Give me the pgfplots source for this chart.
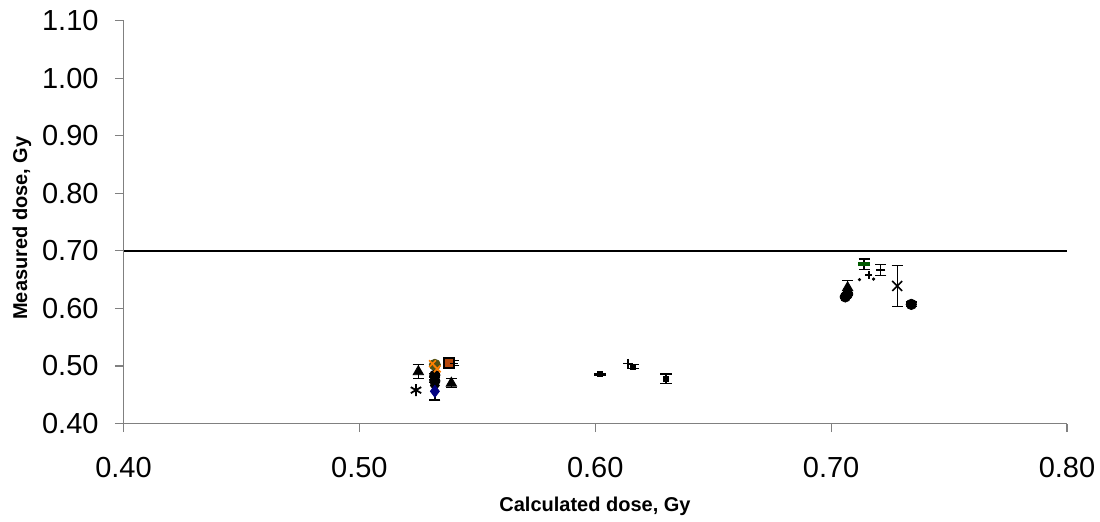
\documentclass[border=0pt]{standalone}
\usepackage{pgfplots}
\pgfplotsset{compat=1.18}
\usepackage{fontspec}
\setmainfont{Liberation Sans}
\definecolor{axgray}{RGB}{128,128,128}
\definecolor{olivec}{RGB}{80,80,20}
\definecolor{orangec}{RGB}{255,128,0}
\definecolor{brownc}{RGB}{180,70,10}
\definecolor{navyc}{RGB}{0,0,128}
\definecolor{greenc}{RGB}{0,90,0}
\begin{document}
\begin{tikzpicture}
\useasboundingbox (0,0) rectangle (550pt,260.5pt);
\begin{axis}[
  at={(61.75pt,48.75pt)}, anchor=south west,
  scale only axis, width=471.75pt, height=201.4pt,
  xmin=0.4, xmax=0.8, ymin=0.4, ymax=1.1,
  xtick={0.4,0.5,0.6,0.7,0.8},
  ytick={0.4,0.5,0.6,0.7,0.8,0.9,1.0,1.1},
  axis x line*=bottom, axis y line*=left,
  axis line style={axgray, line width=0.6pt, -},
  tick style={axgray, line width=0.6pt},
  tick align=outside, major tick length=4.25pt,
  clip=false,
  ticklabel style={font=\fontsize{14.5}{17}\selectfont},
  xticklabel style={yshift=-9pt},
  yticklabel style={xshift=-4.7pt},
  /pgf/number format/.cd, fixed, fixed zerofill, precision=2, assume math mode=true,
  /pgfplots/.cd,
  error bars/error bar style={black, line width=0.65pt},
  error bars/error mark options={black, line width=0.65pt, mark size=2.8pt, rotate=90},
]
% reference line
\addplot[black, line width=0.7pt, no marks] coordinates {(0.4,0.7) (0.8,0.7)};
% triangles
\addplot[only marks, mark=triangle*, mark size=3pt, black,
  error bars/.cd, y dir=both, y explicit]
  coordinates {(0.525,0.490) +- (0,0.012) (0.539,0.470) +- (0,0.008) (0.707,0.636) +- (0,0.012)};
% asterisk
\addplot[only marks, mark=asterisk, mark size=3pt, black, line width=0.9pt]
  coordinates {(0.524,0.458)};
% black circles
\addplot[only marks, mark=*, mark size=2.6pt, black,
  error bars/.cd, y dir=both, y explicit]
  coordinates {(0.532,0.484) +- (0,0.003) (0.532,0.474) +- (0,0.003) (0.707,0.625) +- (0,0.003) (0.706,0.620) +- (0,0.003) (0.734,0.607) +- (0,0.004)};
% black diamond
\addplot[only marks, mark=diamond*, mark size=3pt, black]
  coordinates {(0.532,0.466)};
% navy diamond
\addplot[only marks, mark=diamond*, mark size=3pt, navyc,
  error bars/.cd, y dir=both, y explicit]
  coordinates {(0.532,0.456) +- (0,0.015)};
% olive circle
\addplot[only marks, mark=*, mark size=2.8pt, olivec]
  coordinates {(0.532,0.502)};
% orange crosses
\addplot[only marks, mark=x, mark size=2.4pt, orangec, line width=0.8pt]
  coordinates {(0.531,0.504) (0.533,0.495)};
% brown square
\addplot[only marks, mark=square*, mark size=2.4pt, mark options={fill=brownc, draw=black, line width=0.8pt}]
  coordinates {(0.538,0.505)};
\addplot[only marks, mark=-, mark size=2pt, black,
  error bars/.cd, y dir=both, y explicit]
  coordinates {(0.540,0.505) +- (0,0.004)};
% small squares
\addplot[only marks, mark=square*, mark size=1.3pt, black,
  error bars/.cd, y dir=both, y explicit]
  coordinates {(0.602,0.486) +- (0,0.0015) (0.616,0.499) +- (0,0.003) (0.630,0.478) +- (0,0.008)};
% plus
\addplot[only marks, mark=+, mark size=2.4pt, black, line width=0.8pt]
  coordinates {(0.614,0.504)};
% green dash
\addplot[only marks, mark=-, mark size=3pt, greenc, line width=2pt,
  error bars/.cd, y dir=both, y explicit]
  coordinates {(0.714,0.677) +- (0,0.009)};
% small plus and dots
\addplot[only marks, mark=+, mark size=1.8pt, black, line width=0.7pt]
  coordinates {(0.716,0.658)};
\addplot[only marks, mark=*, mark size=0.6pt, black]
  coordinates {(0.712,0.650) (0.718,0.651)};
% black dash
\addplot[only marks, mark=-, mark size=2.4pt, black, line width=1pt,
  error bars/.cd, y dir=both, y explicit]
  coordinates {(0.721,0.667) +- (0,0.0095)};
% big x
\addplot[only marks, mark=x, mark size=3.5pt, black, line width=0.8pt,
  error bars/.cd, y dir=both, y explicit]
  coordinates {(0.728,0.639) +- (0,0.036)};
\end{axis}
\node[font=\bfseries\fontsize{10}{12}\selectfont] at (297.5pt,7.5pt) {Calculated dose, Gy};
\node[font=\bfseries\fontsize{10}{12}\selectfont, rotate=90] at (11pt,146.5pt) {Measured dose, Gy};
\end{tikzpicture}
\end{document}
